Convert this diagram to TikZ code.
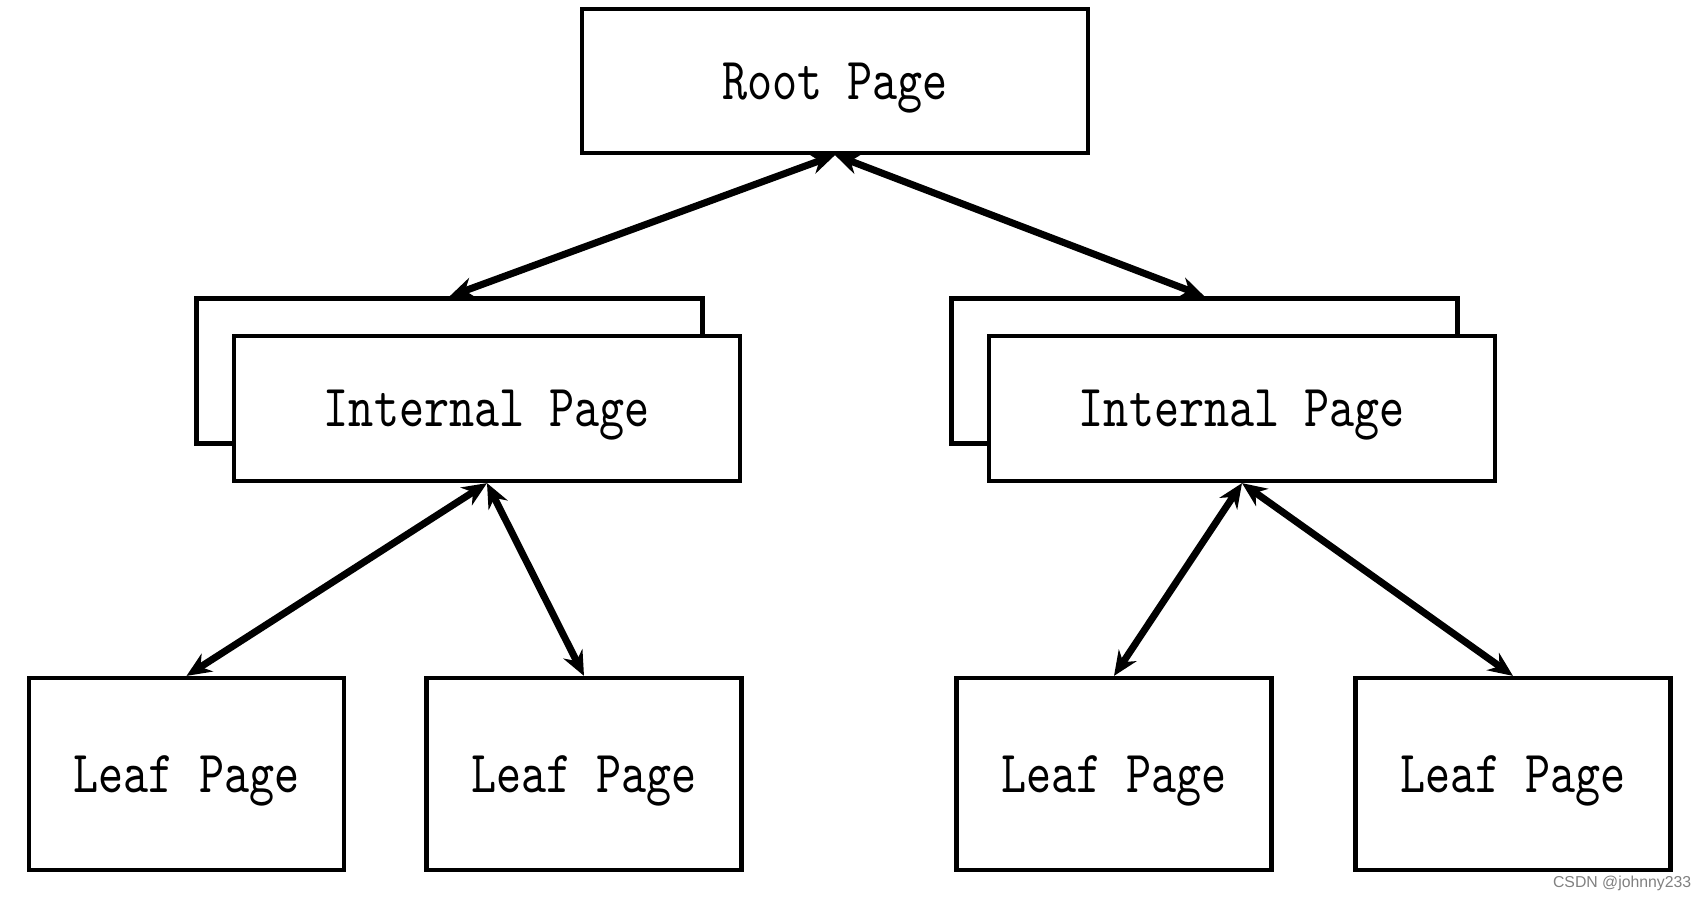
\documentclass[tikz,border=0pt]{standalone}
\usepackage{fontspec}
\newfontfamily\pagefont{lmmono10-regular.otf}[FakeStretch=0.8]
\newfontfamily\markfont{Liberation Sans}
\usetikzlibrary{arrows.meta, positioning}

\begin{document}
\begin{tikzpicture}[
    page/.style={draw, line width=1.2pt, fill=white, text depth=0pt, font=\pagefont\fontsize{17}{19}\selectfont},
    link/.style={{Stealth[length=7pt,width=6pt]}-{Stealth[length=7pt,width=6pt]}, line width=2pt}
  ]
  \useasboundingbox (0,0) rectangle (16.94,-9.00);

  % Root page
  \node[page, minimum width=5.06cm, minimum height=1.44cm] (root) at (8.35,-0.81) {Root Page};

  % Internal pages (one more page behind each)
  \node[page, minimum width=5.06cm, minimum height=1.45cm] (lback) at (4.495,-3.71) {};
  \node[page, minimum width=5.06cm, minimum height=1.45cm] (lint) at (4.87,-4.085) {Internal Page};
  \node[page, minimum width=5.06cm, minimum height=1.45cm] (rback) at (12.045,-3.71) {};
  \node[page, minimum width=5.06cm, minimum height=1.45cm] (rint) at (12.42,-4.085) {Internal Page};

  % Leaf pages
  \node[page, minimum width=3.15cm, minimum height=1.92cm] (leafa) at (1.865,-7.74) {Leaf Page};
  \node[page, minimum width=3.15cm, minimum height=1.92cm] (leafb) at (5.84,-7.74) {Leaf Page};
  \node[page, minimum width=3.15cm, minimum height=1.92cm] (leafc) at (11.14,-7.74) {Leaf Page};
  \node[page, minimum width=3.15cm, minimum height=1.92cm] (leafd) at (15.13,-7.74) {Leaf Page};

  % Links
  \draw[link] (root.south) -- (lback.north);
  \draw[link] (root.south) -- (rback.north);
  \draw[link] (lint.south) -- (leafa.north);
  \draw[link] (lint.south) -- (leafb.north);
  \draw[link] (rint.south) -- (leafc.north);
  \draw[link] (rint.south) -- (leafd.north);

  \node[anchor=east, text=gray, inner sep=0pt, font=\markfont\fontsize{4.5}{5}\selectfont] (mark) at (16.92,-8.83) {CSDN @johnny233};
\end{tikzpicture}
\end{document}
